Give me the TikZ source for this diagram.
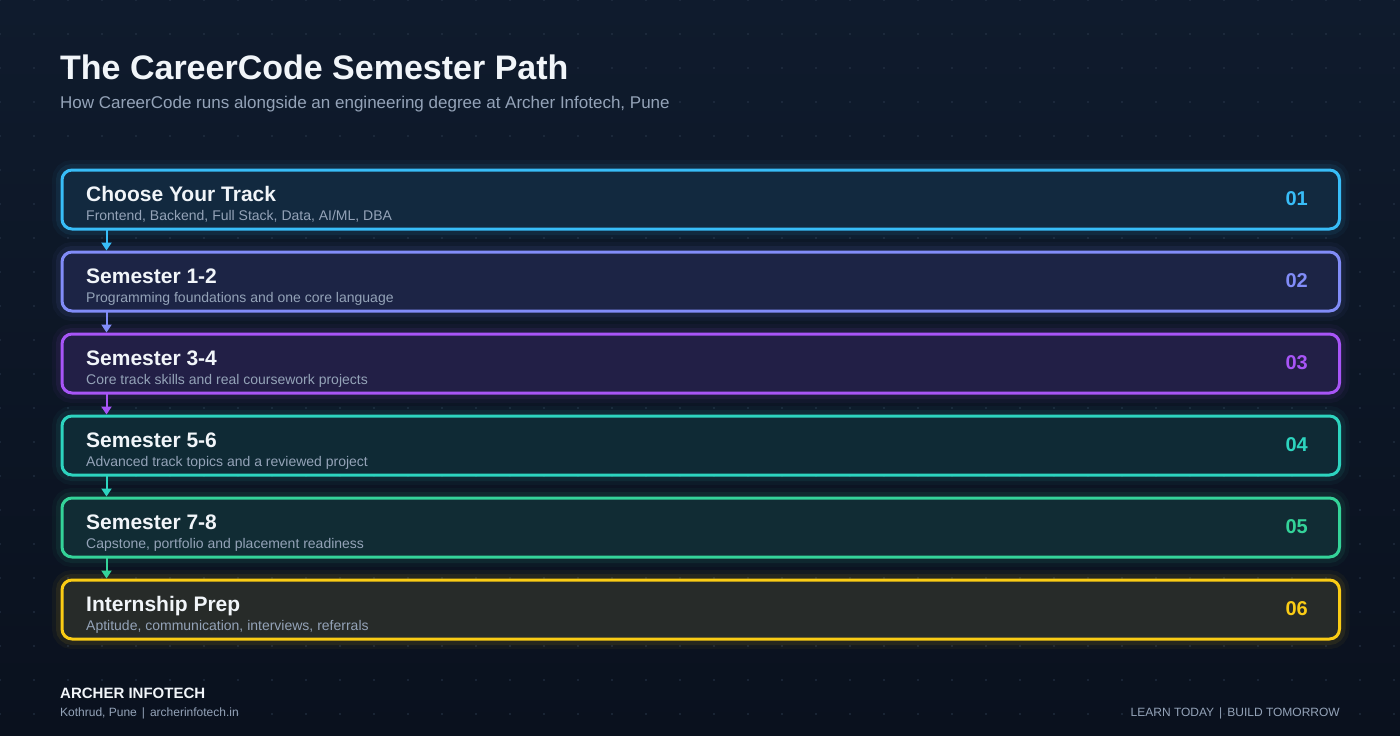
\documentclass[tikz,border=0pt]{standalone}
\usepackage{fontspec}
\setmainfont{Liberation Sans}
\usetikzlibrary{arrows.meta}

\definecolor{bgtop}{HTML}{0F1B2D}
\definecolor{bgbot}{HTML}{0A111E}
\definecolor{dotc}{HTML}{2A384C}
\definecolor{txtgray}{HTML}{94A3B8}
\definecolor{txtwhite}{HTML}{F1F5F9}
\definecolor{cSky}{HTML}{38BDF8}
\definecolor{fSky}{HTML}{12293F}
\definecolor{cIndigo}{HTML}{818CF8}
\definecolor{fIndigo}{HTML}{1C2445}
\definecolor{cPurple}{HTML}{A855F7}
\definecolor{fPurple}{HTML}{221F46}
\definecolor{cTeal}{HTML}{2DD4BF}
\definecolor{fTeal}{HTML}{0F2A35}
\definecolor{cGreen}{HTML}{34D399}
\definecolor{fGreen}{HTML}{112C34}
\definecolor{cGold}{HTML}{FACC15}
\definecolor{fGold}{HTML}{272B29}

\begin{document}
\begin{tikzpicture}[x=1pt, y=-1pt,
    stage/.style={draw=#1, line width=3pt, rounded corners=10pt, outer sep=0pt, inner sep=0pt,
      minimum width=1277.5pt, minimum height=59pt,
      preaction={draw=#1, draw opacity=0.04, line width=20pt},
      preaction={draw=#1, draw opacity=0.08, line width=12pt}},
    heading/.style={anchor=base west, inner sep=0pt, text=txtwhite, font=\fontsize{21}{25}\selectfont\bfseries},
    note/.style={anchor=base west, inner sep=0pt, text=txtgray, font=\fontsize{14}{17}\selectfont},
    num/.style={anchor=base east, inner sep=0pt, text=#1, font=\fontsize{20}{24}\selectfont\bfseries},
    link/.style={draw=#1, line width=2pt, shorten >=1.5pt, -{Triangle[width=10pt,length=8pt]}}]

    % Tlo
    \useasboundingbox (0,0) rectangle (1400,736);
    \shade[top color=bgtop, bottom color=bgbot] (0,0) rectangle (1400,736);
    \foreach \i in {0,...,41}
      \foreach \j in {0,...,21}
        \fill[dotc] (\i*34, \j*34) circle (0.8pt);

    % Naglowek
    \node[anchor=base west, inner sep=0pt, text=txtwhite, font=\fontsize{34}{40}\selectfont\bfseries] (title) at (60,79) {The CareerCode Semester Path};
    \node[anchor=base west, inner sep=0pt, text=txtgray, font=\fontsize{17}{20}\selectfont] (subtitle) at (60,108) {How CareerCode runs alongside an engineering degree at Archer Infotech, Pune};

    % Etapy
    \node[stage=cSky, fill=fSky] (s1) at (700.75,199.5) {};
    \node[stage=cIndigo, fill=fIndigo] (s2) at (700.75,281.5) {};
    \node[stage=cPurple, fill=fPurple] (s3) at (700.75,363.5) {};
    \node[stage=cTeal, fill=fTeal] (s4) at (700.75,445.5) {};
    \node[stage=cGreen, fill=fGreen] (s5) at (700.75,527.5) {};
    \node[stage=cGold, fill=fGold] (s6) at (700.75,609.5) {};

    \node[heading] (h1) at ([xshift=24pt,yshift=-31pt]s1.north west) {Choose Your Track};
    \node[note] (n1) at ([xshift=24pt,yshift=-50pt]s1.north west) {Frontend, Backend, Full Stack, Data, AI/ML, DBA};
    \node[num=cSky] (k1) at ([xshift=-31.5pt,yshift=-35pt]s1.north east) {01};

    \node[heading] (h2) at ([xshift=24pt,yshift=-31pt]s2.north west) {Semester 1-2};
    \node[note] (n2) at ([xshift=24pt,yshift=-50pt]s2.north west) {Programming foundations and one core language};
    \node[num=cIndigo] (k2) at ([xshift=-31.5pt,yshift=-35pt]s2.north east) {02};

    \node[heading] (h3) at ([xshift=24pt,yshift=-31pt]s3.north west) {Semester 3-4};
    \node[note] (n3) at ([xshift=24pt,yshift=-50pt]s3.north west) {Core track skills and real coursework projects};
    \node[num=cPurple] (k3) at ([xshift=-31.5pt,yshift=-35pt]s3.north east) {03};

    \node[heading] (h4) at ([xshift=24pt,yshift=-31pt]s4.north west) {Semester 5-6};
    \node[note] (n4) at ([xshift=24pt,yshift=-50pt]s4.north west) {Advanced track topics and a reviewed project};
    \node[num=cTeal] (k4) at ([xshift=-31.5pt,yshift=-35pt]s4.north east) {04};

    \node[heading] (h5) at ([xshift=24pt,yshift=-31pt]s5.north west) {Semester 7-8};
    \node[note] (n5) at ([xshift=24pt,yshift=-50pt]s5.north west) {Capstone, portfolio and placement readiness};
    \node[num=cGreen] (k5) at ([xshift=-31.5pt,yshift=-35pt]s5.north east) {05};

    \node[heading] (h6) at ([xshift=24pt,yshift=-31pt]s6.north west) {Internship Prep};
    \node[note] (n6) at ([xshift=24pt,yshift=-50pt]s6.north west) {Aptitude, communication, interviews, referrals};
    \node[num=cGold] (k6) at ([xshift=-31.5pt,yshift=-35pt]s6.north east) {06};

    % Strzalki
    \draw[link=cSky] ([xshift=44.5pt]s1.south west) -- ([xshift=44.5pt]s2.north west);
    \draw[link=cIndigo] ([xshift=44.5pt]s2.south west) -- ([xshift=44.5pt]s3.north west);
    \draw[link=cPurple] ([xshift=44.5pt]s3.south west) -- ([xshift=44.5pt]s4.north west);
    \draw[link=cTeal] ([xshift=44.5pt]s4.south west) -- ([xshift=44.5pt]s5.north west);
    \draw[link=cGreen] ([xshift=44.5pt]s5.south west) -- ([xshift=44.5pt]s6.north west);

    % Stopka
    \node[anchor=base west, inner sep=0pt, text=txtwhite, font=\fontsize{15}{18}\selectfont\bfseries] (brand) at (60,698) {ARCHER INFOTECH};
    \node[anchor=base west, inner sep=0pt, text=txtgray, font=\fontsize{12}{14}\selectfont] (place) at (60,716) {Kothrud, Pune\hspace{5pt}|\hspace{5pt}archerinfotech.in};
    \node[anchor=base east, inner sep=0pt, text=txtgray, font=\fontsize{12}{14}\selectfont] (motto) at (1340,716) {LEARN TODAY\hspace{5pt}|\hspace{5pt}BUILD TOMORROW};
\end{tikzpicture}
\end{document}
